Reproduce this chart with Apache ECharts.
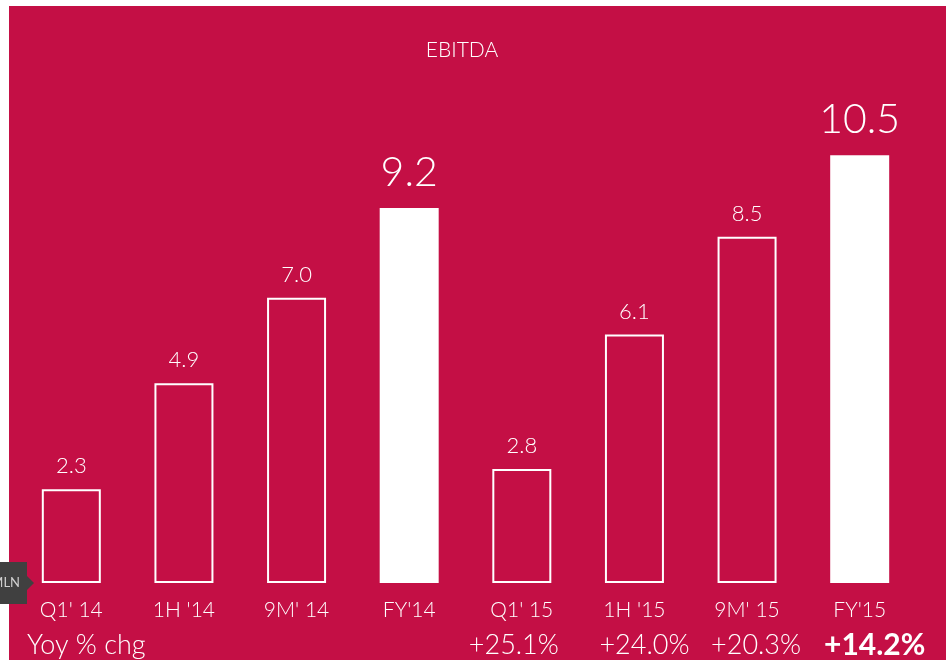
<!DOCTYPE html>
<html>
<head>
<meta charset="utf-8">
<script src="https://cdn.jsdelivr.net/npm/echarts@6/dist/echarts.min.js"></script>
<style>
  html, body { margin: 0; padding: 0; background: #fff; }
  #chart { width: 946px; height: 660px; }
</style>
</head>
<body>
<div id="chart"></div>
<script>
const categories = ["Q1' 14", "1H '14", "9M' 14", "FY'14", "Q1' 15", "1H '15", "9M' 15", "FY'15"]
const ebitda = [2.3, 4.9, 7.0, 9.2, 2.8, 6.1, 8.5, 10.5]
const fullYear = [false, false, false, true, false, false, false, true]
const yoyChange = ['', '', '', '', '+25.1%', '+24.0%', '+20.3%', '+14.2%']

const RED = '#c40f45'
const FONT = 'Lato, "Noto Sans", sans-serif'
// the yoy figures sit a little off the bar centres in the slide
const yoyNudge = [0, 0, 0, 0, -8, 10, 9, 15]

const chart = echarts.init(document.getElementById('chart'))

const barData = ebitda.map((v, i) => {
  if (fullYear[i]) {
    return {
      value: v,
      itemStyle: { color: '#fff', borderWidth: 0 },
      label: { fontSize: 41, distance: 15 },
    }
  }
  return {
    value: v,
    itemStyle: { color: 'rgba(0,0,0,0)', borderColor: '#fff', borderWidth: 2 },
  }
})

const yoyRich = {}
yoyChange.forEach((t, i) => {
  const n = yoyNudge[i]
  const pad = n >= 0 ? [0, 0, 0, n * 2] : [0, -n * 2, 0, 0]
  yoyRich['y' + i] = {
    color: '#fff',
    fontSize: i === 7 ? 30 : 27,
    fontWeight: i === 7 ? 'bold' : 300,
    fontFamily: FONT,
    lineHeight: 28,
    padding: pad,
  }
})

chart.setOption({
  backgroundColor: '#fff',
  animation: false,
  graphic: [
    // red slide panel
    { type: 'rect', z: -10, shape: { x: 9, y: 6, width: 937, height: 654 }, style: { fill: RED } },
    // MLN unit tab
    {
      type: 'group', z: 10,
      children: [
        { type: 'rect', shape: { x: 0, y: 562, width: 27, height: 42 }, style: { fill: '#404040' } },
        { type: 'polygon', shape: { points: [[27, 576], [34, 583], [27, 590]] }, style: { fill: '#404040' } },
        { type: 'text', style: { x: 20, y: 583, text: 'MLN', fill: '#d0d0d0', font: '13px ' + FONT, align: 'right', verticalAlign: 'middle' } },
      ],
    },
    {
      type: 'text', z: 10,
      style: { x: 27, y: 645, text: 'Yoy % chg', fill: '#fff', font: '300 27px ' + FONT, verticalAlign: 'middle' },
    },
    {
      type: 'text', z: 10,
      style: { x: 462, y: 50, text: 'EBITDA', fill: '#fff', font: '300 21px ' + FONT, align: 'center', verticalAlign: 'middle' },
    },
  ],
  grid: { left: 15, right: 30, top: 94, bottom: 77 },
  xAxis: [
    {
      type: 'category',
      data: categories,
      axisLine: { show: false },
      axisTick: { show: false },
      axisLabel: { interval: 0, color: '#fff', fontSize: 21, fontWeight: 300, fontFamily: FONT, margin: 17, lineHeight: 21 },
    },
    {
      type: 'category',
      data: categories,
      position: 'bottom',
      axisLine: { show: false },
      axisTick: { show: false },
      axisLabel: {
        interval: 0,
        hideOverlap: false,
        showMaxLabel: true,
        margin: 48,
        formatter: (v, i) => '{y' + i + '|' + yoyChange[i] + '}',
        rich: yoyRich,
      },
    },
  ],
  yAxis: { type: 'value', min: 0, max: 12, show: false },
  series: [
    {
      type: 'bar',
      xAxisIndex: 0,
      data: barData,
      barWidth: 59,
      label: {
        show: true,
        position: 'top',
        distance: 12,
        color: '#fff',
        fontSize: 22,
        fontWeight: 300,
        fontFamily: FONT,
        formatter: p => p.value.toFixed(1),
      },
    },
  ],
})
</script>
</body>
</html>
